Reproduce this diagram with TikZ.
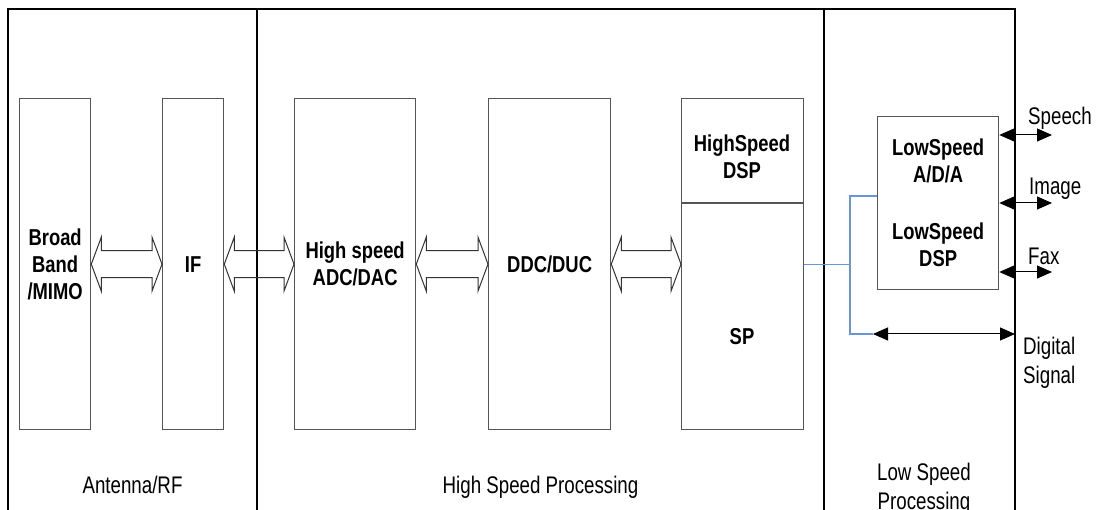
\documentclass[tikz,border=0pt]{standalone}
\usepackage{fontspec}
\setmainfont{Liberation Sans}
\newfontfamily\narrowfont[FakeStretch=0.78]{Liberation Sans}
\newfontfamily\narrowbold[FakeStretch=0.8]{Liberation Sans Bold}
\usetikzlibrary{calc,arrows.meta}
\definecolor{boxgray}{RGB}{85,85,85}
\definecolor{linkblue}{RGB}{105,148,215}
\tikzset{
  frame/.style={draw=black, line width=2pt},
  box/.style={draw=boxgray, line width=1.3pt, inner sep=0pt, anchor=north west,
    font=\narrowbold\fontsize{23}{27}\selectfont, align=center},
  boldtxt/.style={inner sep=0pt, font=\narrowbold\fontsize{23}{27}\selectfont, align=center},
  lbl/.style={inner sep=0pt, font=\narrowfont\fontsize{24}{29}\selectfont},
  harrow/.style={draw=black!80, line width=1pt, line join=miter},
  sig/.style={draw=black, line width=1pt,
    {Triangle[length=15pt,width=13pt]}-{Triangle[length=15pt,width=13pt]}},
  blueline/.style={draw=linkblue, line width=1.2pt}
}
\newcommand\hollowarrow[2]{%
  \draw[harrow] let \p1=(#1.east), \p2=(#2.west) in
    (\x1,\y1) -- (\x1+10pt,\y1+27pt) -- (\x1+10pt,\y1+13.5pt) -- (\x2-10pt,\y1+13.5pt)
    -- (\x2-10pt,\y1+27pt) -- (\x2,\y1) -- (\x2-10pt,\y1-27pt) -- (\x2-10pt,\y1-13.5pt)
    -- (\x1+10pt,\y1-13.5pt) -- (\x1+10pt,\y1-27pt) -- cycle;}
\begin{document}
\begin{tikzpicture}[x=1pt,y=-1pt]
\useasboundingbox[fill=white] (0,0) rectangle (1096,510);

% outer frame and section dividers
\draw[frame] (8,510) -- (8,9) -- (1015,9) -- (1015,510);
\draw[frame] (257,9) -- (257,510);
\draw[frame] (824,9) -- (824,510);

% blocks
\node[box, minimum width=71pt, minimum height=331pt] (bb) at (19,98) {Broad\\Band\\/MIMO};
\node[box, minimum width=61pt, minimum height=331pt] (if) at (162,98) {IF};
\node[box, minimum width=121pt, minimum height=331pt] (adc) at (294,98) {High speed\\ADC/DAC};
\node[box, minimum width=122pt, minimum height=331pt] (ddc) at (488,98) {DDC/DUC};
\node[box, minimum width=122pt, minimum height=331pt] (sp) at (681,98) {};
\draw[draw=boxgray, line width=1.3pt] (sp.west |- 0,203) -- (sp.east |- 0,203);
\node[boldtxt] (spa) at (742,157) {HighSpeed\\DSP};
\node[boldtxt] (spb) at (742,337) {SP};
\node[box, minimum width=121pt, minimum height=173pt] (ls) at (877,116)
  {LowSpeed\\A/D/A\\[30pt]LowSpeed\\DSP};

% hollow double arrows
\hollowarrow{bb}{if}
\hollowarrow{if}{adc}
\hollowarrow{adc}{ddc}
\hollowarrow{ddc}{sp}

% blue links
\coordinate (jt) at (850,196);
\coordinate (jb) at (850,334);
\coordinate (ds) at (873,334);
\coordinate (dse) at (1015,334);
\draw[blueline] (sp.east) -- (sp.east -| jt);
\draw[blueline] (ds) -- (jb) -- (jt) -- (jt -| ls.west);
\draw[sig] (ds) -- (dse);

% outputs
\coordinate (o1) at (1052,135);
\coordinate (o2) at (1052,203);
\coordinate (o3) at (1052,272);
\draw[sig] (ls.east |- o1) -- (o1);
\draw[sig] (ls.east |- o2) -- (o2);
\draw[sig] (ls.east |- o3) -- (o3);

% labels
\node[lbl, anchor=base west] (speech) at (1028,125) {Speech};
\node[lbl, anchor=base west] (image) at (1029,195) {Image};
\node[lbl, anchor=base west] (fax) at (1028,265) {Fax};
\node[lbl, anchor=north west, align=left] (digital) at (1023,337) {Digital\\Signal};
\node[lbl, anchor=base] (rf) at (132.5,494) {Antenna/RF};
\node[lbl, anchor=base] (hsp) at (540.5,494) {High Speed Processing};
\node[lbl, anchor=north, align=center] (lsp) at (924,463) {Low Speed\\Processing};
\end{tikzpicture}
\end{document}
